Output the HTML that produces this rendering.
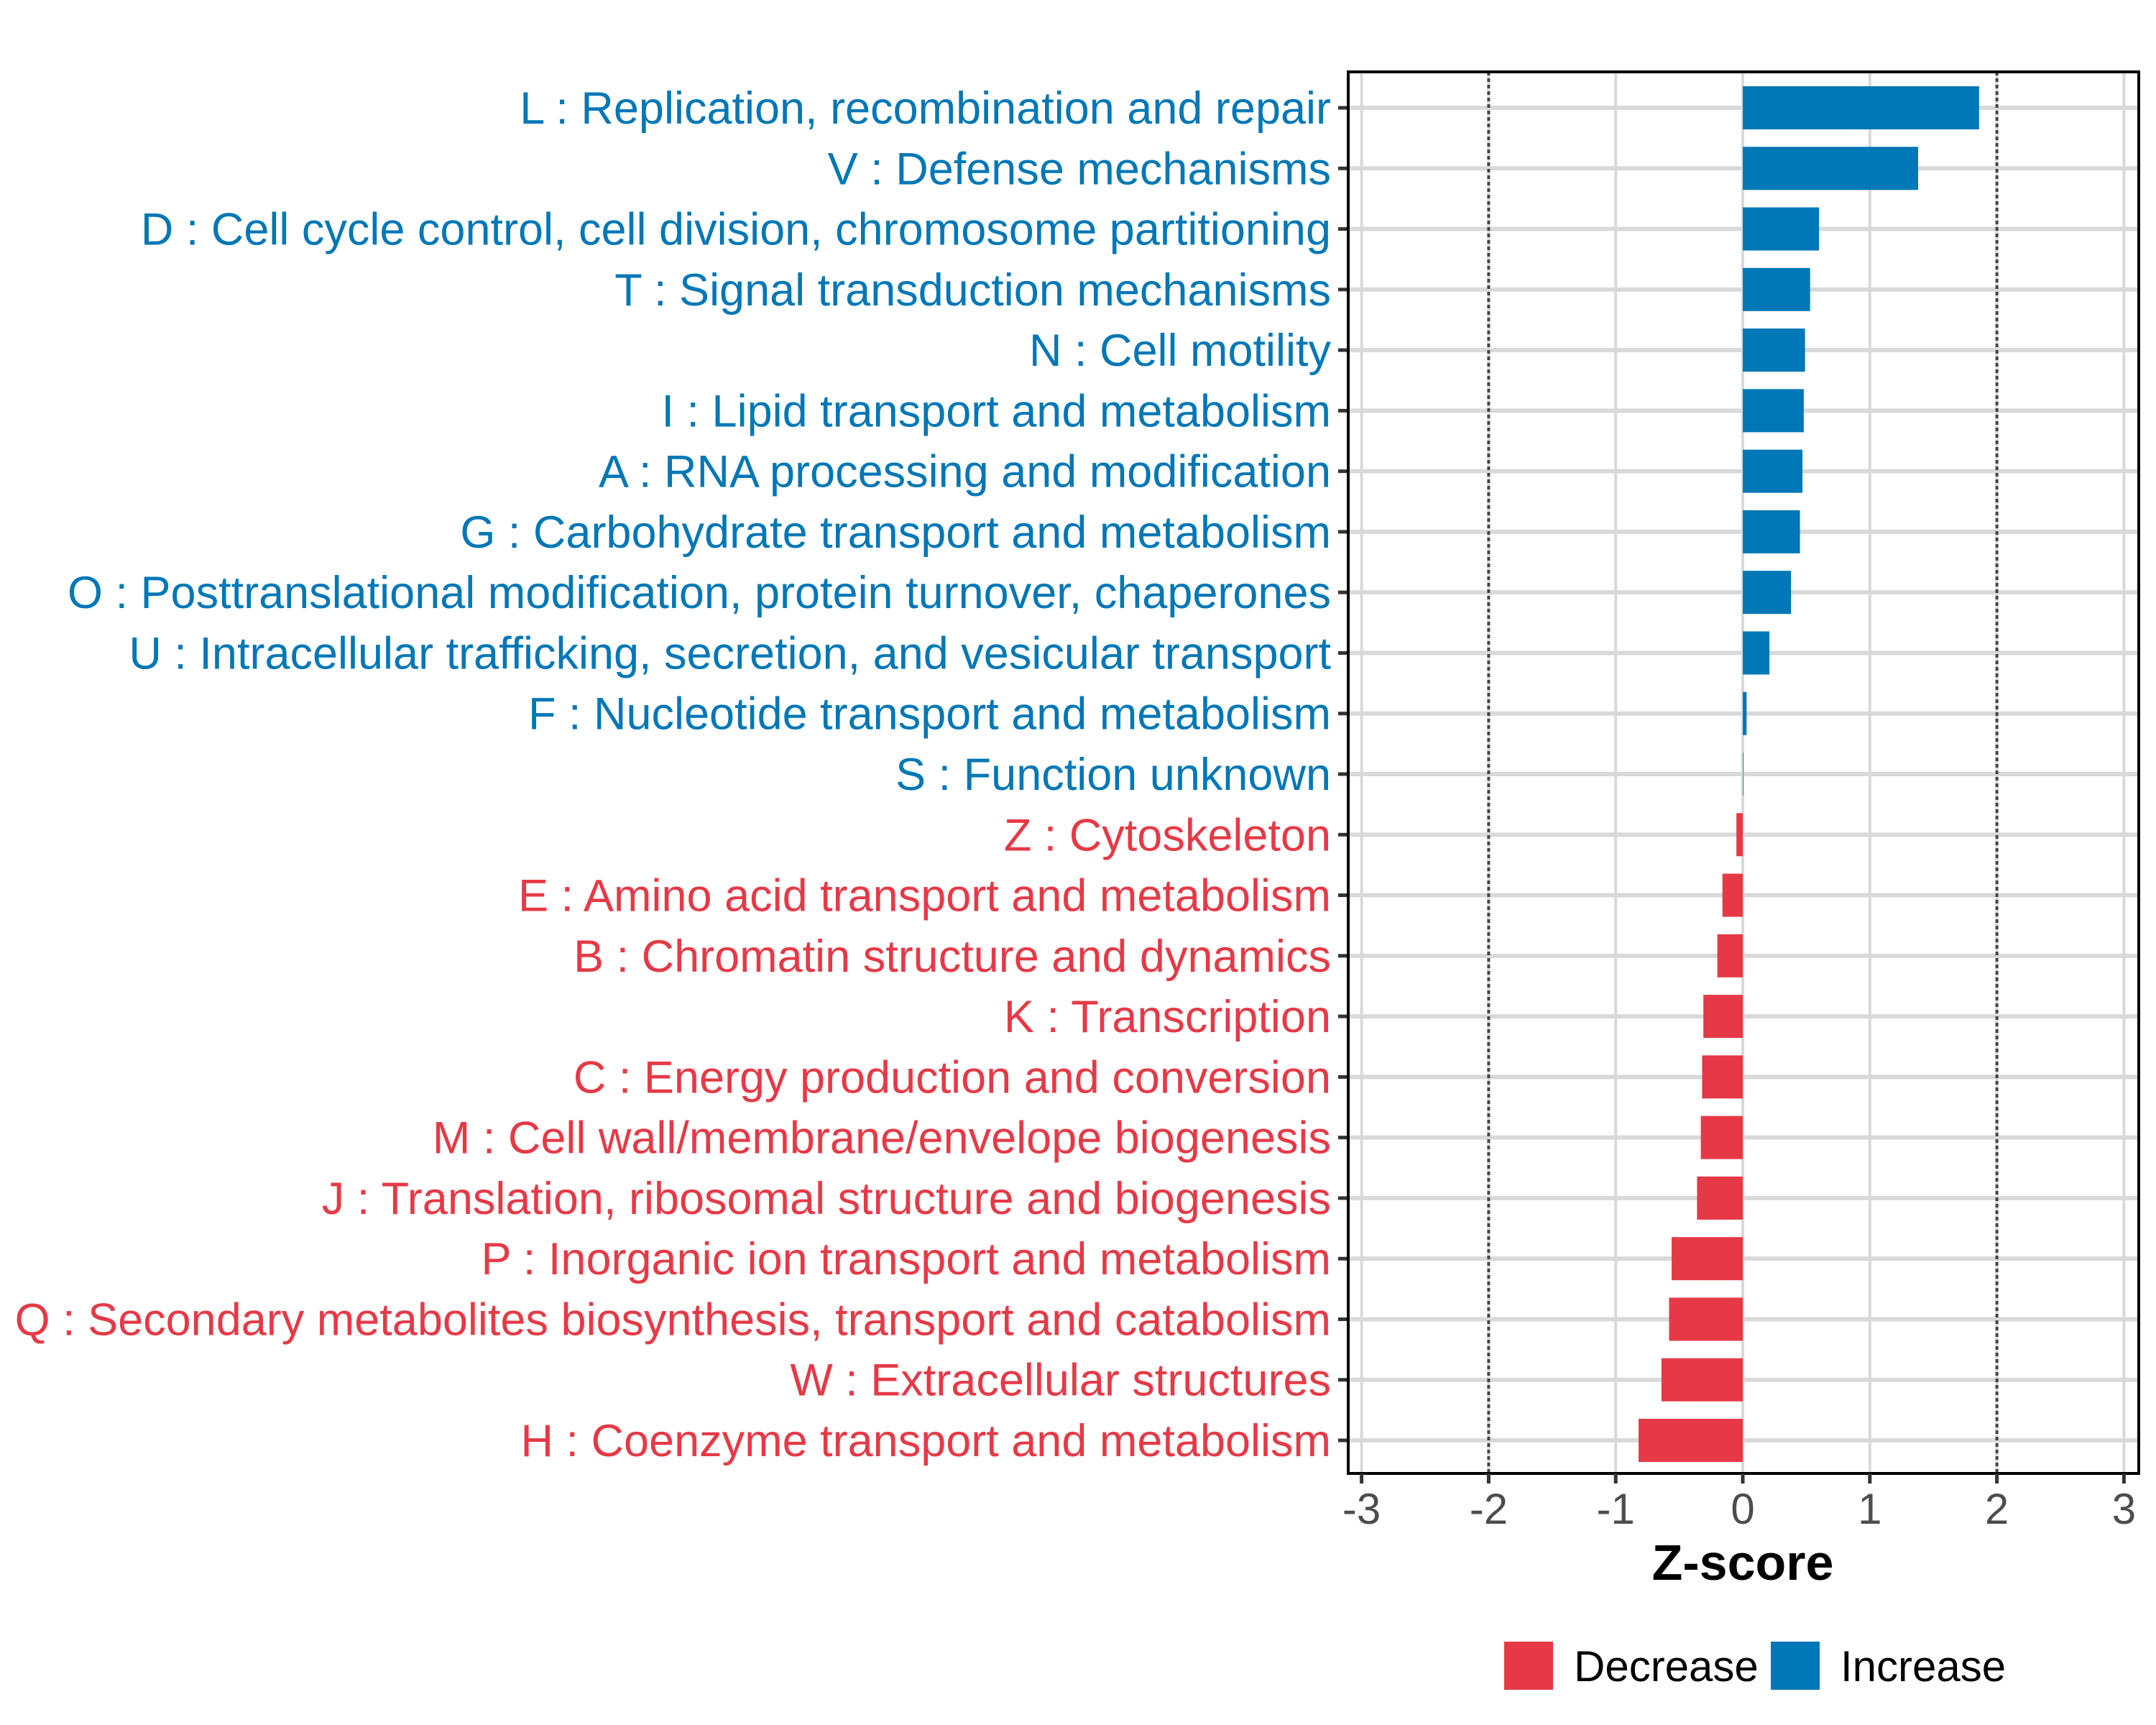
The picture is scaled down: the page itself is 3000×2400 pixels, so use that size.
<!DOCTYPE html>
<html><head><meta charset="utf-8"><style>
html,body{margin:0;padding:0;background:#fff}
svg{display:block}
text{font-family:"Liberation Sans",Arial,sans-serif}
</style></head><body>
<svg id="chart" width="3000" height="2400" viewBox="0 0 3000 2400" xmlns="http://www.w3.org/2000/svg"></svg>
<script>
const categories = ["L : Replication, recombination and repair","V : Defense mechanisms","D : Cell cycle control, cell division, chromosome partitioning","T : Signal transduction mechanisms","N : Cell motility","I : Lipid transport and metabolism","A : RNA processing and modification","G : Carbohydrate transport and metabolism","O : Posttranslational modification, protein turnover, chaperones","U : Intracellular trafficking, secretion, and vesicular transport","F : Nucleotide transport and metabolism","S : Function unknown","Z : Cytoskeleton","E : Amino acid transport and metabolism","B : Chromatin structure and dynamics","K : Transcription","C : Energy production and conversion","M : Cell wall/membrane/envelope biogenesis","J : Translation, ribosomal structure and biogenesis","P : Inorganic ion transport and metabolism","Q : Secondary metabolites biosynthesis, transport and catabolism","W : Extracellular structures","H : Coenzyme transport and metabolism"];
const zscores = [1.86,1.38,0.60,0.53,0.49,0.48,0.47,0.45,0.38,0.21,0.03,0.004,-0.05,-0.16,-0.20,-0.31,-0.32,-0.33,-0.36,-0.56,-0.58,-0.64,-0.82];
const xTicks = [-3,-2,-1,0,1,2,3];
const xTickLabels = ["-3","-2","-1","0","1","2","3"];
const refLines = [-2,2];

const NS="http://www.w3.org/2000/svg";
const svg=document.getElementById('chart');
const P={l:1876,r:2976,t:100,b:2050};
const x0=2425, unit=176.8;
const xs=v=>x0+v*unit;
const rowTop=150, rowStep=(2004-150)/22;
const ys=i=>rowTop+i*rowStep;
const BLUE="#0077B6", RED="#E63946";
function mk(tag,attrs,parent){const e=document.createElementNS(NS,tag);for(const k in attrs)e.setAttribute(k,attrs[k]);(parent||svg).appendChild(e);return e;}

const grid=mk('g',{});


xTicks.forEach(v=>{const l=mk('line',{x1:xs(v),x2:xs(v),y1:P.t,y2:P.b,stroke:"#d9d9d9","stroke-width":4},grid);

});
categories.forEach((c,i)=>{const l=mk('line',{x1:P.l,x2:P.r,y1:ys(i),y2:ys(i),stroke:"#d9d9d9","stroke-width":6},grid);

});
refLines.forEach(v=>{const l=mk('line',{x1:xs(v),x2:xs(v),y1:P.t,y2:P.b,stroke:"#444","stroke-width":4,"stroke-dasharray":"5 4"});

});

categories.forEach((c,i)=>{
  const v=zscores[i], col=v>=0?BLUE:RED;
  const r=mk('rect',{x:Math.min(xs(v),xs(0)),y:ys(i)-30,width:Math.max(Math.abs(xs(v)-xs(0)),0.5),height:60,fill:col});
  
  
  const t=mk('text',{x:1852,y:ys(i)+22,"text-anchor":"end","font-size":63,fill:col});
  t.textContent=c;
  
  
  const tk=mk('line',{x1:1862,x2:P.l,y1:ys(i),y2:ys(i),stroke:"#333","stroke-width":5});
  
  
});

const frame=mk('rect',{x:P.l,y:P.t,width:P.r-P.l,height:P.b-P.t,fill:"none",stroke:"#000","stroke-width":4});



xTicks.forEach((v,i)=>{
  const tk=mk('line',{x1:xs(v),x2:xs(v),y1:P.b,y2:P.b+14,stroke:"#333","stroke-width":5});
  
  
  const t=mk('text',{x:xs(v),y:2120,"text-anchor":"middle","font-size":60,fill:"#4d4d4d"});
  t.textContent=xTickLabels[i];
  
  
});
const xt=mk('text',{x:x0,y:2198,"text-anchor":"middle","font-size":70,"font-weight":"bold",fill:"#000"});
xt.textContent="Z-score";



const lg=mk('g',{});


const k1=mk('rect',{x:2093,y:2284,width:68,height:67,fill:RED},lg);


const t1=mk('text',{x:2190,y:2339,"font-size":60,fill:"#000"},lg);t1.textContent="Decrease";


const k2=mk('rect',{x:2464,y:2284,width:68,height:67,fill:BLUE},lg);


const t2=mk('text',{x:2561,y:2339,"font-size":60,fill:"#000"},lg);t2.textContent="Increase";


</script>
</body></html>
